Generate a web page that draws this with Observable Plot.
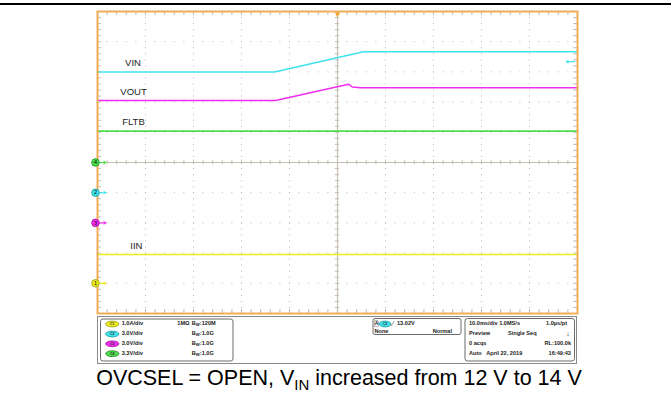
<!DOCTYPE html>
<html><head><meta charset="utf-8">
<script src="https://cdn.jsdelivr.net/npm/d3@7"></script>
<script src="https://cdn.jsdelivr.net/npm/@observablehq/plot@0.6"></script>
<style>
body{margin:0;background:#fff;}
#wrap{position:relative;width:671px;height:396px;overflow:hidden;font-family:"Liberation Sans",Arial,sans-serif;}
#topline{position:absolute;left:0;top:3.4px;width:671px;height:1.4px;background:#000;}
#chart{position:absolute;left:0;top:0;}
#cap{position:absolute;left:0;top:366px;}
</style></head><body>
<div id="wrap"><div id="topline"></div><div id="chart"></div><svg id="cap" width="671" height="30"></svg></div>
<script>
// ---- channel setup ----
const chNum    = [1, 2, 3, 4];
const chName   = ["IIN", "VIN", "VOUT", "FLTB"];
const chPerDiv = [1.0, 3.0, 3.0, 3.3];
const chUnit   = ["A/div", "V/div", "V/div", "V/div"];
const chOffset = [-4, -1, -2, 0];          // ground marker position, divisions from centre
const chColor  = ["#eded1e", "#3fe3ec", "#f02ef0", "#4fdc4f"];
const chEdge   = ["#9a9a10", "#1a9aa0", "#a010a0", "#1a8a1a"];
const chTerm   = ["1M\u03A9", "", "", ""];
const chBW     = ["120M", "1.0G", "1.0G", "1.0G"];
const labelT   = [-41.9, -42.6, -42.5, -42.5]; // label x (ms)

// ---- trace data: time (ms) and value (V or A) ----
const iinT  = [-50, 50];             const iinV  = [0.95, 0.95];
const vinT  = [-50, -13.1, 5.4, 50]; const vinV  = [12.0, 12.0, 14.0, 14.0];
const voutT = [-50, -12.9, 2.3, 3.1, 4.8, 50];
const voutV = [12.16, 12.16, 13.78, 13.5, 13.42, 13.42];
const fltbT = [-50, 50];             const fltbV = [3.42, 3.42];

// trigger
const trigCh = 2, trigLevel = 13.02, trigT = 0;

// info panel text
const timeInfo = ["10.0ms/div 1.0MS/s", "1.0\u00B5s/pt", "Preview", "Single Seq", "0 acqs", "RL:100.0k", "Auto   April 22, 2019", "16:49:43"];
const caption = ["OVCSEL = OPEN, V", "IN", " increased from 12 V to 14 V"];

// ---- build rows ----
const series = [[iinT, iinV], [vinT, vinV], [voutT, voutV], [fltbT, fltbV]];
const toDiv = (i, v) => v / chPerDiv[i] + chOffset[i];
const traceRows = series.map(([T, V], i) => T.map((t, k) => ({t, d: toDiv(i, V[k])})));
const chRows = chNum.map((n, i) => ({n, i, off: chOffset[i], color: chColor[i], edge: chEdge[i],
  name: chName[i], lt: labelT[i], ly: toDiv(i, series[i][1][0])}));
const trigRow = [{d: toDiv(trigCh - 1, trigLevel), color: chColor[trigCh - 1]}];

const minorX = d3.range(-50, 50.001, 2);
const minorY = d3.range(-5, 5.001, 0.2);
const gridX = [-40, -30, -20, -10, 10, 20, 30, 40];
const gridY = [-4, -3, -2, -1, 1, 2, 3, 4];
const tickC = "#bdbab2", axisC = "#c6c0b2", dotC = "#b4b4b4";

const order = [0, 3, 2, 1];
const plot = Plot.plot({
  width: 671, height: 366,
  marginLeft: 97, marginRight: 94, marginTop: 11, marginBottom: 53,
  x: {domain: [-50, 50], axis: null},
  y: {domain: [-5, 5], axis: null},
  color: {type: "identity"},
  style: {background: "transparent", overflow: "visible", fontFamily: "Liberation Sans, Arial, sans-serif"},
  marks: [
    Plot.ruleX(gridX, {stroke: dotC, strokeDasharray: "1 5.04"}),
    Plot.ruleY(gridY, {stroke: dotC, strokeDasharray: "1 8.6"}),
    Plot.ruleX([0], {stroke: axisC, strokeWidth: 1.2}),
    Plot.ruleY([0], {stroke: axisC, strokeWidth: 1.2}),
    Plot.ruleX(minorX, {y1: () => -0.075, y2: () => 0.075, stroke: axisC}),
    Plot.ruleY(minorY, {x1: () => -0.45, x2: () => 0.45, stroke: axisC}),
    Plot.ruleX(minorX, {y1: () => 5, y2: () => 4.87, stroke: tickC}),
    Plot.ruleX(minorX, {y1: () => -5, y2: () => -4.87, stroke: tickC}),
    Plot.ruleY(minorY, {x1: () => -50, x2: () => -49.2, stroke: tickC}),
    Plot.ruleY(minorY, {x1: () => 50, x2: () => 49.2, stroke: tickC}),
    ...order.map(i => Plot.line(traceRows[i], {x: "t", y: "d", stroke: chColor[i], strokeWidth: i === 3 ? 1.7 : 1.5})),
    Plot.text(chRows, {x: "lt", y: "ly", text: "name", dy: -9, fontSize: 9.5, fill: "#222"}),
    Plot.frame({stroke: "#f2ac58", strokeWidth: 2}),
    // channel ground markers
    Plot.ruleY(chRows, {y: "off", x1: () => -49.7, x2: () => -48.6, stroke: "color", strokeWidth: 1.2}),
    Plot.dot(chRows, {x: () => -48.5, y: "off", symbol: "triangle2", r: 1.8, rotate: 90, fill: "color"}),
    Plot.dot(chRows, {x: () => -50, y: "off", dx: -2, r: 3.8, fill: "color", stroke: "edge", strokeWidth: 0.8}),
    Plot.text(chRows, {x: () => -50, y: "off", dx: -2, text: d => String(d.n), fontSize: 5.5, fill: "#000"}),
    // trigger level marker (right)
    Plot.ruleY(trigRow, {y: "d", x1: () => 47.9, x2: () => 49.6, stroke: "color", strokeWidth: 1.2}),
    Plot.dot(trigRow, {x: () => 47.9, y: "d", symbol: "triangle2", r: 1.8, rotate: -90, fill: "color"}),
    // trigger position marker (top)
    Plot.dot([trigT], {x: d => d, y: () => 5, dy: 2.5, symbol: "triangle2", r: 2.6, rotate: 180, fill: "#f2a030"})
  ]
});
document.getElementById("chart").append(plot);

// ---- info panel ----
const svg = d3.select(plot);
const g = svg.append("g").attr("font-family", "Liberation Sans, Arial, sans-serif").attr("font-weight", "bold")
  .attr("font-size", 5.6).attr("fill", "#222").attr("text-anchor", "start");
g.append("rect").attr("x", 97.5).attr("y", 316.5).attr("width", 479).attr("height", 47).attr("fill", "none").attr("stroke", "#8a8a8a");
g.append("rect").attr("x", 100.5).attr("y", 319).attr("width", 132.5).attr("height", 42).attr("rx", 2.5).attr("fill", "none").attr("stroke", "#6a6a6a");
g.append("rect").attr("x", 373).attr("y", 318.5).attr("width", 88).attr("height", 16).attr("rx", 2).attr("fill", "none").attr("stroke", "#6a6a6a");
g.append("rect").attr("x", 465).attr("y", 318.5).attr("width", 109.5).attr("height", 42.5).attr("rx", 2.5).attr("fill", "none").attr("stroke", "#6a6a6a");
const rowY = [324, 334, 343.8, 353.7];
chNum.forEach((n, i) => {
  const y = rowY[i];
  g.append("ellipse").attr("cx", 112.3).attr("cy", y).attr("rx", 6.6).attr("ry", 2.9).attr("fill", chColor[i]).attr("stroke", chEdge[i]).attr("stroke-width", 0.8);
  g.append("text").attr("x", 112.3).attr("y", y).attr("text-anchor", "middle").attr("dominant-baseline", "middle").attr("font-size", 3.6).attr("fill", "#333").text("C" + n);
  g.append("text").attr("x", 121.7).attr("y", y).attr("dominant-baseline", "middle").text(chPerDiv[i].toFixed(1) + chUnit[i]);
  if (chTerm[i]) g.append("text").attr("x", 177.3).attr("y", y).attr("dominant-baseline", "middle").text(chTerm[i]);
  const bw = g.append("text").attr("x", 191.8).attr("y", y).attr("dominant-baseline", "middle");
  bw.append("tspan").text("B");
  bw.append("tspan").attr("font-size", 4.2).attr("dy", 1.2).text("W");
  bw.append("tspan").attr("dy", -1.2).text(":" + chBW[i]);
});
// trigger box
g.append("rect").attr("x", 374.5).attr("y", 320.8).attr("width", 4).attr("height", 5.6).attr("fill", "#fff").attr("stroke", "#777").attr("stroke-width", 0.5);
g.append("text").attr("x", 376.5).attr("y", 324).attr("text-anchor", "middle").attr("dominant-baseline", "middle").attr("font-size", 5).text("A");
g.append("ellipse").attr("cx", 385).attr("cy", 324).attr("rx", 6).attr("ry", 2.9).attr("fill", chColor[trigCh - 1]).attr("stroke", chEdge[trigCh - 1]).attr("stroke-width", 0.8);
g.append("text").attr("x", 385).attr("y", 324).attr("text-anchor", "middle").attr("dominant-baseline", "middle").attr("font-size", 3.6).attr("fill", "#333").text("C" + trigCh);
g.append("text").attr("x", 392.3).attr("y", 324).attr("dominant-baseline", "middle").attr("font-size", 7).attr("font-weight", "normal").text("\u2215");
g.append("text").attr("x", 397).attr("y", 324).attr("dominant-baseline", "middle").text(trigLevel.toFixed(2) + "V");
g.append("text").attr("x", 374.5).attr("y", 331.2).attr("dominant-baseline", "middle").text("None");
g.append("text").attr("x", 452).attr("y", 331.2).attr("text-anchor", "end").attr("dominant-baseline", "middle").text("Normal");
// timebase box
const tx = 469, tr = 571;
g.append("text").attr("x", tx).attr("y", rowY[0]).attr("dominant-baseline", "middle").text(timeInfo[0]);
g.append("text").attr("x", 567).attr("y", rowY[0]).attr("text-anchor", "end").attr("dominant-baseline", "middle").text(timeInfo[1]);
g.append("text").attr("x", tx).attr("y", rowY[1]).attr("dominant-baseline", "middle").text(timeInfo[2]);
g.append("text").attr("x", 508).attr("y", rowY[1]).attr("dominant-baseline", "middle").text(timeInfo[3]);
g.append("text").attr("x", 568).attr("y", rowY[1]).attr("text-anchor", "middle").attr("dominant-baseline", "middle").attr("font-size", 7).text("\u2193");
g.append("text").attr("x", tx).attr("y", rowY[2]).attr("dominant-baseline", "middle").text(timeInfo[4]);
g.append("text").attr("x", tr).attr("y", rowY[2]).attr("text-anchor", "end").attr("dominant-baseline", "middle").text(timeInfo[5]);
g.append("text").attr("x", tx).attr("y", rowY[3]).attr("dominant-baseline", "middle").style("white-space", "pre").text(timeInfo[6]);
g.append("text").attr("x", tr).attr("y", rowY[3]).attr("text-anchor", "end").attr("dominant-baseline", "middle").text(timeInfo[7]);

// ---- caption ----
const cap = d3.select("#cap").append("text").attr("x", 339).attr("y", 19).attr("text-anchor", "middle")
  .attr("font-family", "Liberation Sans, Arial, sans-serif").attr("font-size", 21.5).attr("fill", "#000");
cap.append("tspan").text(caption[0]);
cap.append("tspan").attr("font-size", 15).attr("dy", 4.5).text(caption[1]);
cap.append("tspan").attr("dy", -4.5).text(caption[2]);
</script>
</body></html>
